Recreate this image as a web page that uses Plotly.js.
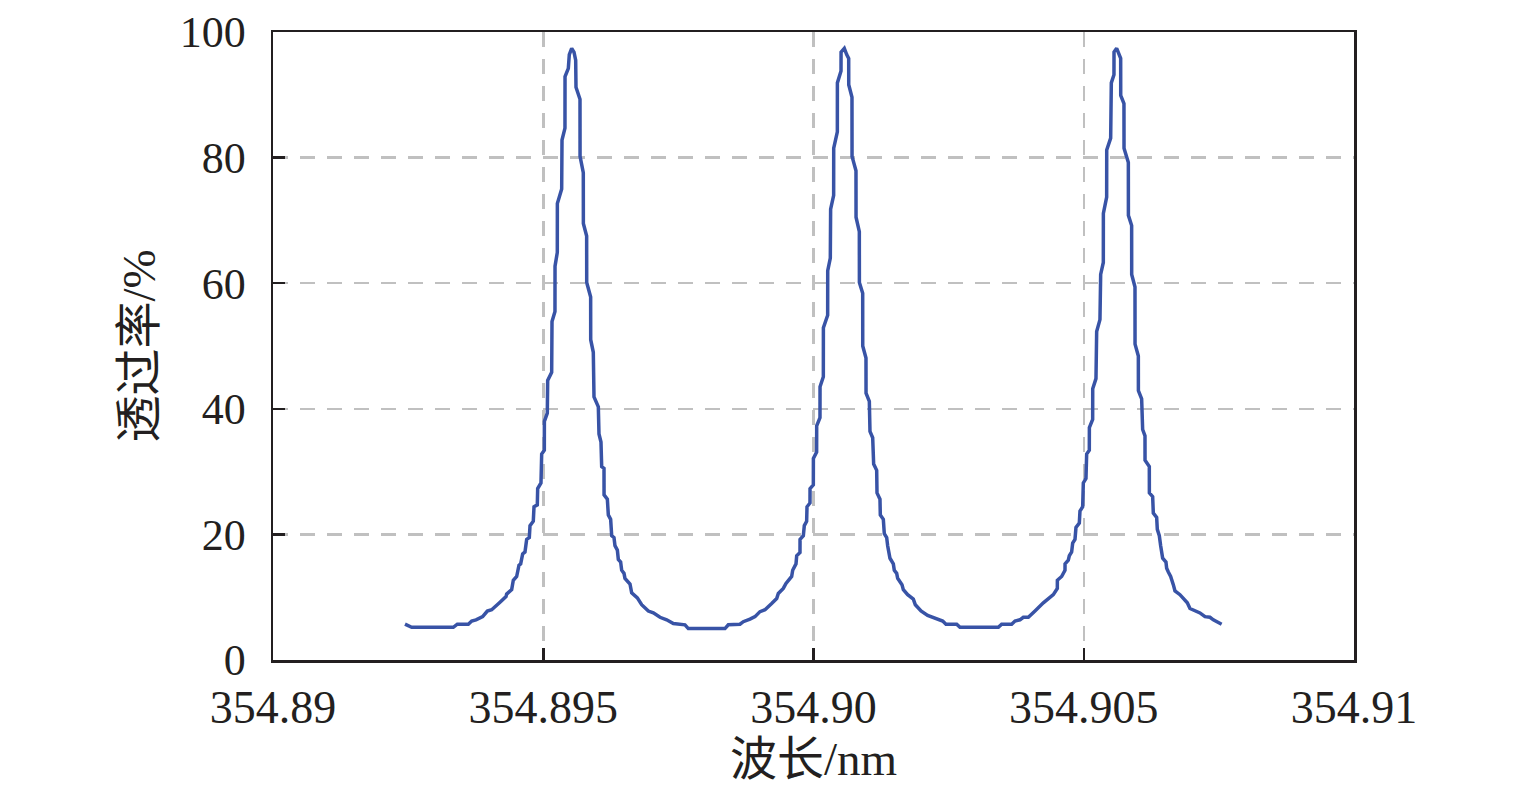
<!DOCTYPE html>
<html>
<head>
<meta charset="utf-8">
<script src="https://cdn.plot.ly/plotly-3.0.1.min.js"></script>
<style>html,body{margin:0;padding:0;background:#fff;}#chart{width:1535px;height:797px;}</style>
</head>
<body>
<div id="chart"></div>
<script>
// Wavelength (nm) of the curve vertices
const wavelength = [
354.892442,354.892566,354.893336,354.893410,354.893614,354.893676,354.893756,354.893830,354.893879,
354.893965,354.894046,354.894200,354.894311,354.894323,354.894416,354.894446,354.894508,354.894551,
354.894582,354.894619,354.894662,354.894693,354.894742,354.894755,354.894816,354.894829,354.894890,
354.894897,354.894958,354.894971,354.895020,354.895021,354.895075,354.895082,354.895156,354.895162,
354.895217,354.895218,354.895260,354.895261,354.895341,354.895347,354.895402,354.895403,354.895464,
354.895482,354.895526,354.895569,354.895600,354.895606,354.895680,354.895681,354.895741,354.895742,
354.895803,354.895804,354.895877,354.895878,354.895926,354.895939,354.896019,354.896031,354.896068,
354.896081,354.896124,354.896125,354.896186,354.896204,354.896247,354.896266,354.896309,354.896327,
354.896371,354.896389,354.896432,354.896451,354.896494,354.896512,354.896605,354.896636,354.896741,
354.896821,354.896944,354.897037,354.897160,354.897283,354.897407,
354.897622,354.897684,354.898362,354.898424,354.898640,354.898701,354.898825,354.898918,354.899010,
354.899103,354.899226,354.899319,354.899349,354.899441,354.899491,354.899534,354.899596,354.899615,
354.899676,354.899689,354.899750,354.899751,354.899812,354.899830,354.899873,354.899880,354.899935,
354.899936,354.899997,354.899998,354.900058,354.900059,354.900120,354.900121,354.900182,354.900183,
354.900262,354.900263,354.900311,354.900317,354.900373,354.900374,354.900441,354.900442,354.900509,
354.900510,354.900570,354.900614,354.900651,354.900652,354.900712,354.900713,354.900786,354.900787,
354.900848,354.900849,354.900910,354.900911,354.900971,354.900972,354.901033,354.901045,354.901095,
354.901113,354.901169,354.901175,354.901230,354.901236,354.901292,354.901310,354.901354,354.901372,
354.901415,354.901477,354.901495,354.901539,354.901557,354.901637,354.901662,354.901742,354.901847,
354.901884,354.901989,354.902112,354.902205,354.902266,354.902390,354.902451,
354.902649,354.902710,354.903420,354.903481,354.903666,354.903728,354.903820,354.903882,354.903975,
354.904098,354.904252,354.904437,354.904511,354.904512,354.904591,354.904653,354.904654,354.904714,
354.904733,354.904776,354.904795,354.904838,354.904856,354.904918,354.904930,354.904980,354.904992,
354.905041,354.905054,354.905103,354.905104,354.905165,354.905166,354.905226,354.905239,354.905300,
354.905313,354.905362,354.905363,354.905424,354.905425,354.905498,354.905510,354.905559,354.905560,
354.905609,354.905639,354.905683,354.905684,354.905744,354.905745,354.905825,354.905826,354.905886,
354.905887,354.905948,354.905949,354.906010,354.906011,354.906071,354.906090,354.906133,354.906134,
354.906213,354.906214,354.906275,354.906287,354.906349,354.906361,354.906398,354.906423,354.906460,
354.906521,354.906534,354.906565,354.906608,354.906657,354.906688,354.906780,354.906916,354.906965,
354.907027,354.907150,354.907243,354.907335,354.907397,354.907551
];
// Transmittance (%) at each vertex
const transmittance = [
5.7,5.2,5.2,5.7,5.7,6.2,6.4,6.8,6.9,
7.8,8.0,9.2,10.1,10.5,11.2,12.7,13.3,15.1,
15.3,16.9,17.2,19.2,19.5,21.4,22.1,24.4,24.7,
27.3,28.2,32.8,33.4,38.0,39.3,44.5,45.8,53.9,
55.5,62.7,64.9,72.7,75.0,82.8,84.7,92.9,94.2,
96.4,97.4,96.8,95.5,91.2,89.3,80.2,77.6,69.5,
67.5,60.1,57.8,51.0,49.0,41.9,40.3,36.0,34.7,
30.8,30.5,26.3,25.6,23.1,22.4,19.8,19.5,18.2,
17.5,16.0,15.6,14.3,13.8,13.0,12.1,10.7,9.9,
8.8,7.8,7.5,6.8,6.4,5.8,
5.6,5.0,5.0,5.6,5.7,6.1,6.5,6.9,7.7,
8.0,9.0,9.8,10.6,11.4,12.2,12.6,13.3,14.3,
15.3,16.6,17.1,19.2,19.8,21.4,22.1,24.4,25.0,
27.3,27.9,32.1,33.1,37.3,38.6,43.5,45.1,52.9,
54.9,62.0,64.0,71.8,74.0,81.5,84.1,91.9,93.8,
96.8,97.4,96.4,95.8,91.6,89.6,80.2,77.9,70.5,
68.2,60.1,58.4,50.0,48.1,42.5,41.2,36.4,35.4,
31.2,30.2,26.6,25.6,23.1,22.4,20.1,19.5,18.2,
16.2,15.3,14.3,13.8,13.0,12.0,11.2,10.4,9.7,
8.8,7.8,7.1,6.8,6.5,6.2,5.7,
5.7,5.2,5.2,5.7,5.7,6.2,6.4,6.8,6.8,
7.8,9.1,10.4,11.4,12.7,13.3,14.3,15.3,15.9,
16.6,17.2,18.6,19.2,21.1,21.8,23.7,24.4,28.2,
28.9,32.8,33.4,37.0,38.3,43.2,44.8,52.3,54.2,
61.4,63.3,71.1,73.7,81.2,83.1,91.9,93.2,96.8,
97.4,96.8,95.8,89.9,88.6,81.5,79.2,70.8,69.2,
61.4,59.4,50.3,48.4,42.9,41.6,36.7,35.7,31.8,
30.8,26.6,26.0,23.4,22.7,20.8,19.8,18.2,16.2,
15.6,14.6,14.0,13.3,12.0,11.0,10.4,9.1,8.2,
8.0,7.5,6.9,6.8,6.4,5.7
];
const xTickVals = [354.89, 354.895, 354.90, 354.905, 354.91];
const xTickText = ['354.89', '354.895', '354.90', '354.905', '354.91'];
const yTickVals = [0, 20, 40, 60, 80, 100];
const yTickText = ['0', '20', '40', '60', '80', '100'];

const frameColor = '#231f20';
const gridColor = '#c0c0c0';
const serif = '"Liberation Serif", "Times New Roman", "Noto Sans CJK SC", serif';

const trace = {
  x: wavelength,
  y: transmittance,
  type: 'scatter',
  mode: 'lines',
  line: {color: '#3853a6', width: 3.5},
  hoverinfo: 'skip'
};

const layout = {
  width: 1535,
  height: 797,
  margin: {l: 273, r: 181, t: 32, b: 137},
  paper_bgcolor: '#ffffff',
  plot_bgcolor: '#ffffff',
  showlegend: false,
  font: {family: serif, color: '#231f20'},
  xaxis: {
    range: [354.89, 354.91],
    tickmode: 'array',
    tickvals: xTickVals,
    ticktext: xTickText,
    ticks: 'inside',
    ticklen: 12,
    tickwidth: 2.5,
    tickcolor: frameColor,
    showline: true,
    linecolor: frameColor,
    linewidth: 2.5,
    mirror: true,
    showgrid: true,
    gridcolor: gridColor,
    gridwidth: 2.5,
    griddash: '15px,12px',
    zeroline: false,
    tickfont: {family: serif, size: 46, color: '#231f20'},
    ticklabelstandoff: 5,
    title: {text: '波长/nm', font: {family: serif, size: 47, color: '#231f20'}, standoff: 6}
  },
  yaxis: {
    range: [0, 100],
    tickmode: 'array',
    tickvals: yTickVals,
    ticktext: yTickText,
    ticks: 'inside',
    ticklen: 12,
    tickwidth: 2.5,
    tickcolor: frameColor,
    showline: true,
    linecolor: frameColor,
    linewidth: 2.5,
    mirror: true,
    showgrid: true,
    gridcolor: gridColor,
    gridwidth: 2.5,
    griddash: '15px,12px',
    zeroline: false,
    tickfont: {family: serif, size: 44, color: '#231f20'},
    ticklabelstandoff: 16,
    title: {text: '透过率/%', font: {family: serif, size: 47, color: '#231f20'}, standoff: 10}
  }
};

Plotly.newPlot('chart', [trace], layout, {staticPlot: true, displayModeBar: false});
</script>
</body>
</html>
